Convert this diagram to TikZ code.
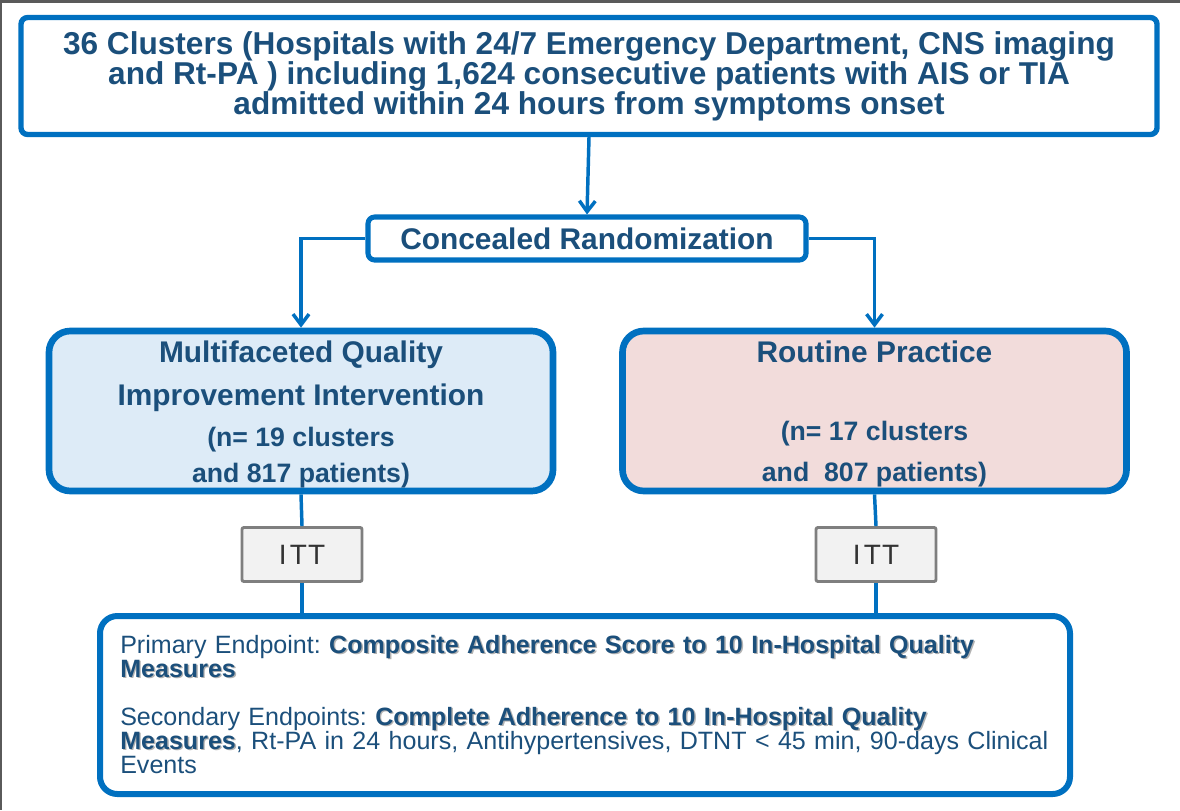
\documentclass[tikz,border=0pt]{standalone}
\usepackage{fontspec}
\setmainfont{Liberation Sans}
\usepackage{tikz}
\usetikzlibrary{arrows.meta}
\definecolor{linkblue}{HTML}{0070C0}
\definecolor{txtblue}{HTML}{1B4F7B}
\definecolor{armfill}{HTML}{DDEBF7}
\definecolor{ctrlfill}{HTML}{F2DCDB}
\definecolor{ittfill}{HTML}{F2F2F2}
\definecolor{ittline}{HTML}{7F7F7F}
\definecolor{edge}{HTML}{5A5A5A}
\newcommand{\shadowed}[1]{\leavevmode\rlap{\kern1.1pt\raisebox{-1.1pt}{\textcolor{black!30}{\bfseries #1}}}{\bfseries #1}}
\newcommand{\tightlines}{\lineskiplimit=-20pt\relax}
\tikzset{
  bigbox/.style={draw=linkblue, line width=4pt, rounded corners=5pt, text=txtblue, align=center, inner sep=0pt},
  armbox/.style={draw=linkblue, line width=5pt, rounded corners=16pt, text=txtblue, align=center, inner sep=0pt,
    minimum width=378pt, minimum height=120pt, font=\bfseries\fontsize{22.4}{27}\selectfont},
  ittbox/.style={draw=ittline, fill=ittfill, line width=2.2pt, rounded corners=1.5pt, text=black!80,
    minimum width=90pt, minimum height=40.5pt, font=\fontsize{21}{24}\selectfont},
  link/.style={draw=linkblue, line width=2.6pt},
  arrowlink/.style={link, -{Straight Barb[length=8pt,width=12pt]}},
}

\begin{document}
\begin{tikzpicture}[x=0.75pt,y=-0.75pt]
  \useasboundingbox (0,0) rectangle (1180,810);
  % scan edges of the slide
  \fill[edge] (0,0) rectangle (1180,3);
  \fill[edge] (0,0) rectangle (1.5,810);

  \node[bigbox, minimum width=852pt, minimum height=87.75pt, font=\bfseries\fontsize{23.7}{22.5}\selectfont] (clusters) at (589,76)
    {36 Clusters (Hospitals with 24/7 Emergency Department, CNS imaging\\
     and Rt-PA ) including 1,624 consecutive patients with AIS or TIA\\
     admitted within 24 hours from symptoms onset};
  \node[bigbox, line width=3.8pt, minimum width=328.5pt, minimum height=32.25pt, font=\bfseries\fontsize{22.4}{24}\selectfont] (random) at (587,238.5)
    {Concealed Randomization};

  \node[armbox, fill=armfill] (qiarm) at (301,411)
    {\rule{0pt}{22pt}Multifaceted Quality\\[5pt]
     Improvement Intervention\\[4pt]
     {\fontsize{20}{24}\selectfont (n= 19 clusters}\\
     {\fontsize{20}{24}\selectfont and 817 patients)}};
  \node[armbox, fill=ctrlfill] (routine) at (874.5,411)
    {\rule{0pt}{21pt}Routine Practice\\[31pt]
     {\fontsize{20}{24}\selectfont (n= 17 clusters}\\[4pt]
     {\fontsize{20}{24}\selectfont and \ 807 patients)}};

  \node[ittbox] (ittqi) at (302,554.5) {I\kern2.5pt T\kern0.8pt T};
  \node[ittbox] (ittrp) at (876,554.5) {I\kern2.5pt T\kern0.8pt T};

  \node[bigbox, line width=4.5pt, rounded corners=13pt, minimum width=727.5pt, minimum height=133.5pt] (endpts) at (585,705) {};
  \node[anchor=north west, inner sep=0pt, text=txtblue, text width=712pt, align=left,
        font=\fontsize{18.8}{18}\selectfont\frenchspacing\tightlines] (endtext) at (120,635)
    {Primary Endpoint: \shadowed{Composite Adherence Score to 10 In-Hospital Quality}\\
     \shadowed{Measures}\\[18pt]
     Secondary Endpoints: \shadowed{Complete Adherence to 10 In-Hospital Quality}\\
     \shadowed{Measures}, Rt-PA in 24 hours, Antihypertensives, DTNT < 45 min, 90-days Clinical\\
     Events};

  \draw[arrowlink] (clusters.south) -- (random.north);
  \draw[arrowlink] (random.west) -| (qiarm.north);
  \draw[arrowlink] (random.east) -| (routine.north);
  \draw[link] (qiarm.south) -- (ittqi.north);
  \draw[link] (routine.south) -- (ittrp.north);
  \draw[link] (ittqi.south) -- (ittqi.south |- endpts.north);
  \draw[link] (ittrp.south) -- (ittrp.south |- endpts.north);
\end{tikzpicture}
\end{document}
